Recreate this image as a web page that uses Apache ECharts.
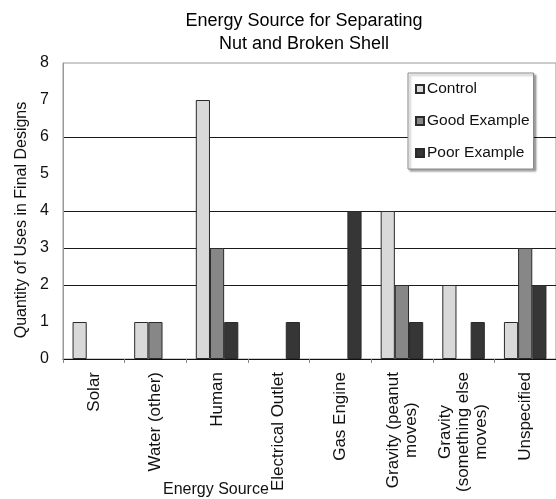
<!DOCTYPE html>
<html>
<head>
<meta charset="utf-8">
<style>
  html, body { margin: 0; padding: 0; background: #fff; overflow: hidden; }
  #chart { width: 556px; height: 499px; }
</style>
</head>
<body>
<div id="chart"></div>
<script src="https://cdn.jsdelivr.net/npm/echarts@6/dist/echarts.min.js"></script>
<script>
var categories = ['Solar', 'Water (other)', 'Human', 'Electrical Outlet', 'Gas Engine',
                  'Gravity (peanut\nmoves)', 'Gravity\n(something else\nmoves)', 'Unspecified'];
var seriesNames = ['Control', 'Good Example', 'Poor Example'];
var controlValues = [1, 1, 7, 0, 0, 4, 2, 1];
var goodValues = [0, 1, 3, 0, 0, 2, 0, 3];
var poorValues = [0, 0, 1, 1, 4, 1, 1, 2];
var yTicks = [0, 1, 2, 3, 4, 5, 6, 7, 8];
// only some gridlines survived in the original picture
var gridOn = [false, false, true, true, true, false, true, false, false];

var font = 'Liberation Sans, Arial, sans-serif';
var chart = echarts.init(document.getElementById('chart'));

function barSeries(name, values, color) {
    return {
        name: name,
        type: 'bar',
        // zero bars get no outline
        data: values.map(function (v) {
            return v === 0 ? { value: 0, itemStyle: { borderWidth: 0 } } : v;
        }),
        barGap: '0%',
        barCategoryGap: '31%',
        itemStyle: { color: color, borderColor: '#2a2a2a', borderWidth: 1 }
    };
}

var option = {
    backgroundColor: '#fff',
    animation: false,
    title: {
        text: 'Energy Source for Separating\nNut and Broken Shell',
        left: 299,
        top: 5,
        textAlign: 'center',
        textStyle: { fontFamily: font, fontSize: 18, fontWeight: 'normal', color: '#000', lineHeight: 23 }
    },
    legend: {
        orient: 'vertical',
        left: 408,
        top: 73,
        data: seriesNames,
        icon: 'rect',
        itemWidth: 8,
        itemHeight: 8,
        itemGap: 16,
        padding: [8, 4, 8, 7],
        backgroundColor: '#fff',
        borderColor: '#888',
        borderWidth: 1,
        shadowColor: 'rgba(0,0,0,0.35)',
        shadowBlur: 2,
        shadowOffsetX: 2,
        shadowOffsetY: 2,
        textStyle: { fontFamily: font, fontSize: 15.5, color: '#111', padding: [0, 0, 0, -2] }
    },
    grid: {
        left: 63,
        right: -5,
        top: 63,
        bottom: 140,
        show: true,
        borderColor: '#999',
        borderWidth: 1,
        containLabel: false
    },
    xAxis: {
        type: 'category',
        data: categories,
        axisLine: { lineStyle: { color: '#111', width: 1 } },
        axisTick: { show: true, length: 4, lineStyle: { color: '#888' } },
        axisLabel: {
            interval: 0,
            rotate: 90,
            margin: 13,
            fontFamily: font,
            fontSize: 17,
            color: '#111',
            lineHeight: 18,
            formatter: function (v) {
                return v.split('\n').map(function (s) { return '{c|' + s + '}'; }).join('\n');
            },
            rich: { c: { align: 'center', fontFamily: font, fontSize: 17, color: '#111', lineHeight: 18 } }
        }
    },
    yAxis: {
        type: 'value',
        min: yTicks[0],
        max: yTicks[yTicks.length - 1],
        interval: 1,
        axisLine: { show: true, lineStyle: { color: '#999' } },
        axisTick: { show: false },
        axisLabel: { fontFamily: font, fontSize: 16, color: '#111', margin: 14 },
        splitLine: {
            show: true,
            lineStyle: {
                color: gridOn.map(function (on) { return on ? '#1a1a1a' : 'rgba(0,0,0,0)'; }),
                width: 1
            }
        }
    },
    graphic: [{
        type: 'text',
        x: 22,
        y: 220,
        rotation: Math.PI / 2,
        style: {
            text: 'Quantity of Uses in Final Designs',
            fontFamily: font, fontSize: 16, fill: '#111',
            align: 'center', verticalAlign: 'middle'
        }
    }, {
        type: 'text',
        left: 163,
        top: 482,
        style: { text: 'Energy Source', fontFamily: font, fontSize: 16, fill: '#111' }
    }],
    series: [
        barSeries(seriesNames[0], controlValues, '#d9d9d9'),
        barSeries(seriesNames[1], goodValues, '#878787'),
        barSeries(seriesNames[2], poorValues, '#363636')
    ]
};
chart.setOption(option);
</script>
</body>
</html>
